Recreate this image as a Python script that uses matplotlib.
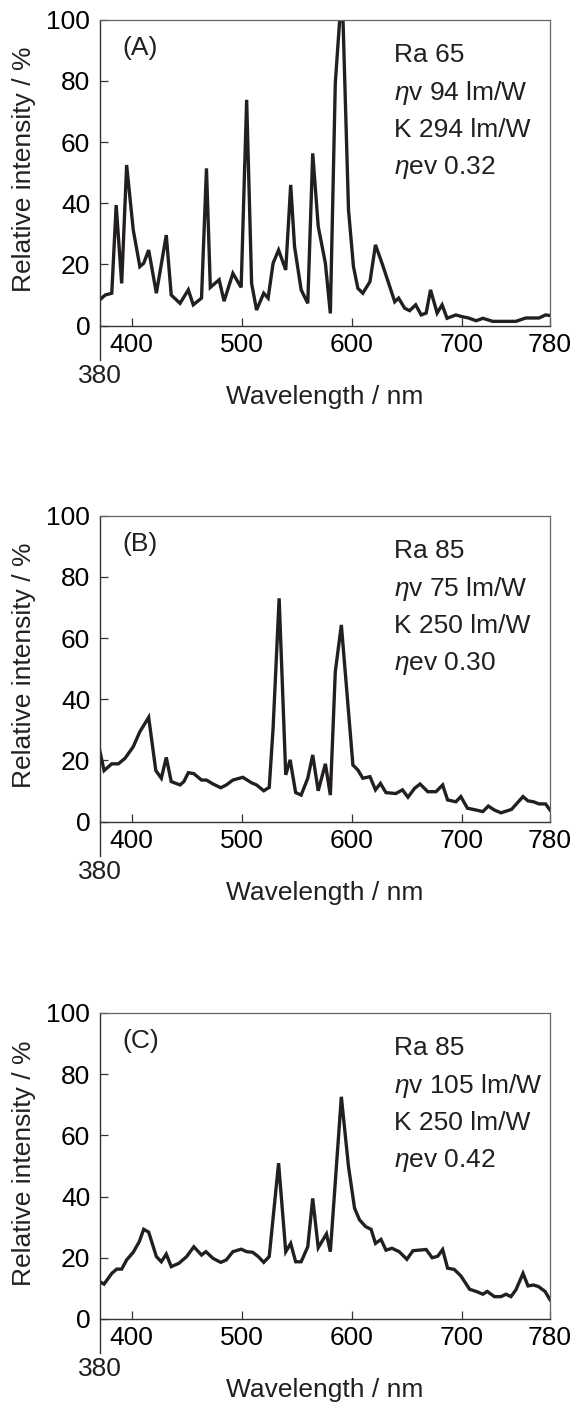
import matplotlib
matplotlib.use("Agg")
import matplotlib.pyplot as plt

plt.rcParams['font.family'] = ['Liberation Sans', 'DejaVu Sans']
plt.rcParams['mathtext.fontset'] = 'custom'
plt.rcParams['mathtext.it'] = 'Liberation Sans:italic'
plt.rcParams['mathtext.rm'] = 'Liberation Sans'

# x ticks and y ticks shared by the three panels
x_ticks = [400, 500, 600, 700, 780]
y_ticks = [0, 20, 40, 60, 80, 100]
x_min, x_max = 371.3, 780

panel_tags = ["(A)", "(B)", "(C)"]
ra_vals = [65, 85, 85]
eta_v_vals = [94, 75, 105]
k_vals = [294, 250, 250]
eta_ev_vals = ["0.32", "0.30", "0.42"]

# spectrum (A)
wl_a = [371, 376, 382, 386, 391, 395.5, 401.5, 407.5, 411, 415.5,
        422.5, 431.5, 436, 444, 451.5, 456, 463.5, 468, 471.5, 479.5,
        484, 492, 499.5, 504.5, 509, 513.5, 520, 524, 528.5, 533.5,
        540, 544.5, 548, 554, 560, 564.5, 569.5, 576, 580.5, 585,
        589, 592, 597, 601.5, 605.5, 610, 616.5, 621.5, 628, 633.5,
        639, 642.5, 648, 652.5, 658, 663, 667.5, 671.5, 677.5, 682,
        686.5, 694.5, 700.5, 706, 713, 719, 728, 749, 758, 770,
        776, 780]
val_a = [8.4, 10, 10.6, 39.4, 13.8, 52.5, 31.3, 19.3, 20.4, 24.7,
         10.6, 29.6, 10, 7.3, 11.7, 6.8, 9, 51.4, 12.5, 15,
         8, 17.1, 12.5, 73.8, 13.8, 5.1, 10.6, 9, 20.4, 24.7,
         18.2, 46, 25.8, 11.7, 7.3, 56.3, 32.4, 20.4, 4, 79.2,
         100, 100, 37.8, 19.3, 12.2, 10.6, 14.4, 26.4, 19.8, 13.8,
         7.8, 9, 5.7, 4.9, 6.8, 3.5, 4.1, 11.7, 4.1, 6.8,
         2.4, 3.5, 2.9, 2.5, 1.6, 2.4, 1.4, 1.4, 2.5, 2.5,
         3.5, 3.3]

# spectrum (B)
wl_b = [371, 375, 382, 388, 394, 401.5, 407.5, 415.5, 422, 427,
        431.5, 436, 444, 447.5, 451.5, 456.5, 463.5, 468, 474, 481,
        486, 492, 501, 509, 513.5, 520, 525, 528.5, 534, 540,
        544, 549, 554, 560, 564.5, 569.5, 576, 580.5, 585, 590.5,
        601, 605.5, 610, 616.5, 621.5, 626, 631, 640, 646, 651,
        657, 662, 669, 676.5, 682.5, 687, 694.5, 699, 705, 713,
        719, 724, 729.5, 735.5, 745, 755.5, 760, 765, 770, 776,
        780]
val_b = [23.4, 16.7, 18.9, 18.9, 20.7, 24.5, 29.4, 34.1, 16.7, 14.2,
         21, 13.1, 12, 13.1, 16, 15.7, 13.6, 13.6, 12.3, 11.1,
         12, 13.6, 14.5, 12.7, 12, 10.1, 11.2, 30.5, 73, 15.3,
         20.2, 9.5, 8.7, 14.2, 21.8, 10.1, 18.9, 8.7, 49, 64.3,
         18.5, 16.9, 14.2, 14.7, 10.4, 12.5, 9.5, 9.2, 10.4, 8,
         10.9, 12.3, 9.8, 9.8, 12, 7.1, 6.5, 8.2, 4.4, 3.8,
         3.3, 5.1, 3.8, 2.9, 4, 8.2, 6.8, 6.5, 5.8, 5.8,
         3.8]

# spectrum (C)
wl_c = [371, 375, 382, 386.5, 391, 395.5, 401.5, 407, 411, 415.5,
        422.5, 427, 431.5, 436, 443, 450, 456.5, 463.5, 467.5, 474,
        481, 486, 492, 499.5, 504.5, 510, 515, 520, 525, 533.5,
        540, 544.5, 549, 554, 560, 564.5, 569.5, 577, 580.5, 590.5,
        597, 602.5, 607, 612.5, 617.5, 621.5, 626.5, 631, 636.5, 643,
        650, 655.5, 661, 667.5, 673, 678, 682.5, 687, 693, 699,
        707, 713, 719, 723, 729.5, 735.5, 740, 744.5, 749, 755.5,
        760, 765, 769.5, 775.5, 780]
val_c = [12.2, 11.4, 14.9, 16.3, 16.3, 19.3, 21.8, 25.3, 29.3, 28.4,
         20.4, 18.7, 21.2, 17.1, 18.2, 20.4, 23.6, 20.9, 22, 19.8,
         18.5, 19.3, 22, 22.8, 22, 21.8, 20.4, 18.5, 20.4, 50.9,
         22, 24.7, 18.7, 18.7, 23.6, 39.4, 23.3, 27.8, 22, 72.6,
         49.8, 36.2, 32.4, 30.2, 29.3, 24.7, 26, 22.5, 23.1, 22,
         19.5, 22.3, 22.5, 22.7, 20, 20.5, 22.7, 16.6, 16.2, 14.1,
         9.7, 9, 8.1, 9, 7.3, 7.3, 8.1, 7.3, 9.5, 14.9,
         10.8, 11.1, 10.6, 9, 6.3]

spectra = [(wl_a, val_a), (wl_b, val_b), (wl_c, val_c)]

fig = plt.figure(figsize=(5.74, 14.14), dpi=100)
bottoms = [0.7697, 0.4189, 0.0672]
fs = 19
ink = "#231f20"

for i, (wl, val) in enumerate(spectra):
    ax = fig.add_axes([0.1742, bottoms[i], 0.784, 0.2164])
    ax.plot(wl, val, color=ink, lw=2.4, solid_joinstyle="miter")
    ax.set_xlim(x_min, x_max)
    ax.set_ylim(0, 100)
    ax.set_xticks(x_ticks)
    ax.set_yticks(y_ticks)
    ax.tick_params(direction="in", length=5.5, width=0.9, color="#333333",
                   labelsize=fs, top=False, right=False)
    ax.tick_params(axis="x", pad=5)
    ax.tick_params(axis="y", pad=7)
    for side in ["top", "right"]:
        ax.spines[side].set_color("#666666")
        ax.spines[side].set_linewidth(0.9)
    for side in ["left", "bottom"]:
        ax.spines[side].set_color("#333333")
        ax.spines[side].set_linewidth(1.0)
    # left axis line runs on below the x axis, down to the "380" label
    ax.spines["left"].set_bounds(-11.2, 100)

    ax.text(x_min, -16.3, "380", ha="center", va="center", fontsize=fs,
            color=ink, clip_on=False)
    ax.set_xlabel("Wavelength / nm", fontsize=fs, color=ink, va="center")
    ax.xaxis.set_label_coords(0.5, -0.232)
    ax.set_ylabel("Relative intensity / %", fontsize=fs, color=ink, va="center")
    ax.yaxis.set_label_coords(-0.169, 0.51)

    ax.text(0.049, 0.907, panel_tags[i], transform=ax.transAxes,
            ha="left", va="center", fontsize=fs, color=ink)
    info = [f"Ra {ra_vals[i]}",
            f"$\\eta$v {eta_v_vals[i]} lm/W",
            f"K {k_vals[i]} lm/W",
            f"$\\eta$ev {eta_ev_vals[i]}"]
    for line, yf in zip(info, [0.886, 0.76, 0.64, 0.518]):
        ax.text(0.653, yf, line, transform=ax.transAxes, ha="left",
                va="center", fontsize=fs, color=ink)

fig.savefig("out.png", dpi=100)
